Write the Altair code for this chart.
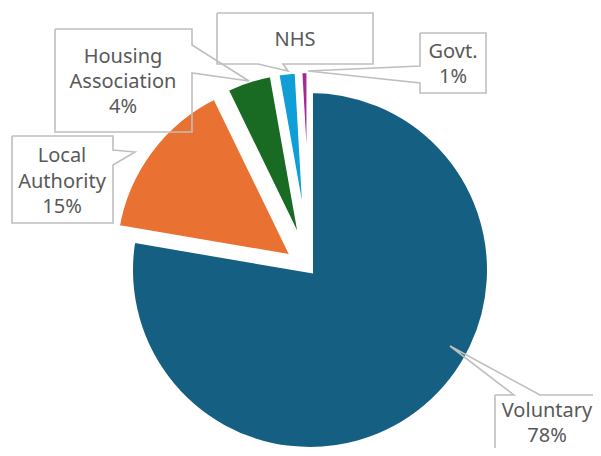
import math
import altair as alt
import pandas as pd

# ---- data ----
categories = ["Voluntary", "Local Authority", "Housing Association", "NHS", "Govt."]
shares = [77.7, 15.1, 4.4, 1.9, 0.9]
label_lines = [["Voluntary", "78%"], ["Local", "Authority", "15%"],
               ["Housing", "Association", "4%"], ["NHS"], ["Govt.", "1%"]]
colors = ["#156082", "#E97132", "#196B24", "#0F9ED5", "#A02B93"]

# ---- layout (page pixels) ----
OFF = 8
W, H = 585, 440
CX, CY, R = 310 - OFF, 270 - OFF, 180
EXPLODE = 20
total = sum(shares)

callout_layout = {
    "Voluntary": dict(box=(495, 395, 612, 470), side="top", base=(514, 540), tip=(450, 346), x=547, baselines=[417, 442]),
    "Local Authority": dict(box=(12, 136, 113, 223), side="right", base=(150, 165), tip=(135, 152), x=62, baselines=[162, 188, 213]),
    "Housing Association": dict(box=(55, 29, 192, 132), side="right", base=(45, 73), tip=(249, 81), x=123, baselines=[63, 88, 113]),
    "NHS": dict(box=(217, 13, 373, 64), side="bottom", base=(258, 283), tip=(288, 71), x=295, baselines=[46]),
    "Govt.": dict(box=(420, 33, 486, 93), side="left", base=(66, 83), tip=(308, 71), x=453, baselines=[58, 83]),
}


def outline(c):
    x0, y0, x1, y1 = c["box"]
    b0, b1 = c["base"]
    t = c["tip"]
    s = c["side"]
    if s == "top":
        pts = [(x0, y0), (b0, y0), t, (b1, y0), (x1, y0), (x1, y1), (x0, y1), (x0, y0)]
    elif s == "right":
        pts = [(x0, y0), (x1, y0), (x1, b0), t, (x1, b1), (x1, y1), (x0, y1), (x0, y0)]
    elif s == "bottom":
        pts = [(x0, y0), (x1, y0), (x1, y1), (b1, y1), t, (b0, y1), (x0, y1), (x0, y0)]
    else:
        pts = [(x0, y0), (x1, y0), (x1, y1), (x0, y1), (x0, b1), t, (x0, b0), (x0, y0)]
    return pts


rows = []
for cat in categories:
    for i, (px, py) in enumerate(outline(callout_layout[cat])):
        rows.append({"callout": cat, "seq": i, "px": px - OFF, "py": py - OFF})
outline_df = pd.DataFrame(rows)

trows = []
for cat, lines in zip(categories, label_lines):
    c = callout_layout[cat]
    for line, b in zip(lines, c["baselines"]):
        trows.append({"text": line, "tx": c["x"] - OFF, "ty": b - OFF})
text_df = pd.DataFrame(trows)

slices = pd.DataFrame({"category": categories, "share": shares, "idx": list(range(len(categories)))})

pie = (
    alt.Chart(slices)
    .transform_window(cum="sum(share)", sort=[alt.SortField("idx")], frame=[None, 0])
    .transform_calculate(start="datum.cum - datum.share")
    .transform_calculate(mid=f"PI * (2 * datum.cum - datum.share) / {total}")
    .transform_calculate(ex=f"datum.idx == 0 ? 0 : {EXPLODE}")
    .transform_calculate(cx=f"{CX} + datum.ex * sin(datum.mid)")
    .transform_calculate(cy=f"{CY} - datum.ex * cos(datum.mid)")
    .mark_arc(radius=R, stroke="white", strokeWidth=6)
    .encode(
        x=alt.X("cx:Q", scale=None),
        y=alt.Y("cy:Q", scale=None),
        theta=alt.Theta("start:Q", scale=alt.Scale(domain=[0, total], range=[0, 2 * math.pi]), stack=False),
        theta2="cum:Q",
        color=alt.Color("category:N", scale=alt.Scale(domain=categories, range=colors), legend=None),
        order=alt.Order("idx:Q"),
    )
)

boxes = (
    alt.Chart(outline_df)
    .mark_line(stroke="#BFBFBF", strokeWidth=1.6)
    .encode(
        x=alt.X("px:Q", scale=None),
        y=alt.Y("py:Q", scale=None),
        detail="callout:N",
        order=alt.Order("seq:Q"),
    )
)

labels = (
    alt.Chart(text_df)
    .mark_text(font="Noto Sans", fontSize=20, color="#595959", baseline="alphabetic", align="center")
    .encode(
        x=alt.X("tx:Q", scale=None),
        y=alt.Y("ty:Q", scale=None),
        text="text:N",
    )
)

chart = (
    alt.layer(pie, boxes, labels)
    .properties(width=W, height=H, padding=0, autosize=alt.AutoSizeParams(type="none"))
    .configure_view(stroke=None)
)

chart.save("out.html", embed_options={"renderer": "svg", "actions": False})
